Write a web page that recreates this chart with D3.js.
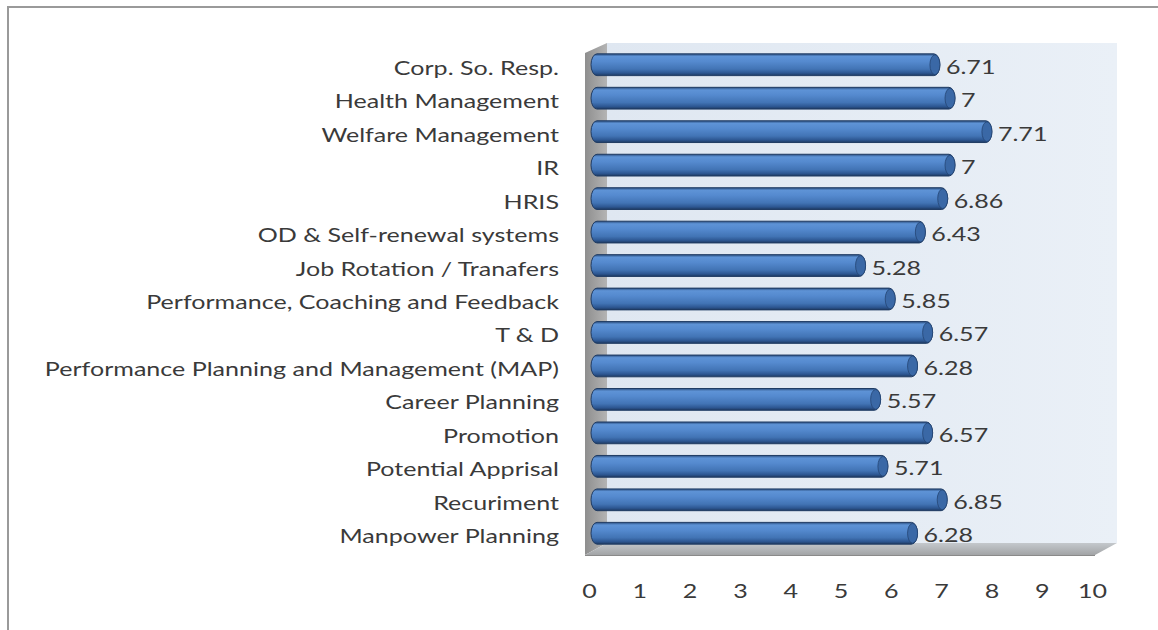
<!DOCTYPE html>
<html><head><meta charset="utf-8">
<script src="https://cdn.jsdelivr.net/npm/d3@7"></script>
<style>body{margin:0;background:#fff}svg{display:block}</style>
</head><body>
<svg id="c" width="1158" height="630"></svg>
<script>
const categories = ["Corp. So. Resp.","Health Management","Welfare Management","IR","HRIS","OD & Self-renewal systems","Job Rotation / Tranafers","Performance, Coaching and Feedback","T & D","Performance Planning and Management (MAP)","Career Planning","Promotion","Potential Apprisal","Recuriment","Manpower Planning"];
const values = [6.71,7,7.71,7,6.86,6.43,5.28,5.85,6.57,6.28,5.57,6.57,5.71,6.85,6.28];
const valueLabels = ["6.71","7","7.71","7","6.86","6.43","5.28","5.85","6.57","6.28","5.57","6.57","5.71","6.85","6.28"];
const ticks = [0,1,2,3,4,5,6,7,8,9,10];

const svg = d3.select("#c");
const defs = svg.append("defs");
const font = "Lato, 'Open Sans', sans-serif";
const fs = 19, sx = 1.32, txtCol = "#3a3a3a";

// gradients
const gb = defs.append("linearGradient").attr("id","bar").attr("x1",0).attr("y1",0).attr("x2",0).attr("y2",1);
[[0,"#2a4d7e"],[0.12,"#5e93d6"],[0.35,"#558acf"],[0.7,"#4274b5"],[0.88,"#2d5792"],[1,"#1e3a62"]].forEach(s=>gb.append("stop").attr("offset",s[0]).attr("stop-color",s[1]));
const gw = defs.append("linearGradient").attr("id","wall").attr("x1",0).attr("y1",0).attr("x2",1).attr("y2",0);
[[0,"#dfe7f1"],[1,"#eaf0f7"]].forEach(s=>gw.append("stop").attr("offset",s[0]).attr("stop-color",s[1]));
const gl = defs.append("linearGradient").attr("id","lwall").attr("x1",0).attr("y1",0).attr("x2",1).attr("y2",0);
[[0,"#8e8e8e"],[1,"#b4b4b4"]].forEach(s=>gl.append("stop").attr("offset",s[0]).attr("stop-color",s[1]));
const gf = defs.append("linearGradient").attr("id","floor").attr("x1",0).attr("y1",0).attr("x2",0).attr("y2",1);
[[0,"#c4c8cc"],[1,"#a2a4a6"]].forEach(s=>gf.append("stop").attr("offset",s[0]).attr("stop-color",s[1]));

// border
svg.append("rect").attr("x",8).attr("y",7).attr("width",1300).attr("height",800)
  .attr("fill","none").attr("stroke","#9a9a9a").attr("stroke-width",2);

// scales
const x = d3.scaleLinear().domain([0,10]).range([591,1111]);
const xAxisScale = d3.scaleLinear().domain([0,10]).range([589,1092]);
const y = d3.scaleBand().domain(categories).range([48,550]).paddingInner(0.35).paddingOuter(0.175);

// walls
const wallL = 607, wallR = 1117, wallT = 43, wallB = 543, dx = 22, dy = 12;
svg.append("rect").attr("x",wallL).attr("y",wallT).attr("width",wallR-wallL).attr("height",wallB-wallT).attr("fill","url(#wall)");
svg.append("path").attr("d",`M${wallL-dx},${wallT+10}L${wallL},${wallT}L${wallL},${wallB}L${wallL-dx},${wallB+dy}Z`).attr("fill","url(#lwall)");
svg.append("path").attr("d",`M${wallL},${wallB}L${wallR},${wallB}L${wallR-dx},${wallB+dy}L${wallL-dx},${wallB+dy}Z`).attr("fill","url(#floor)");
svg.append("line").attr("x1",wallL-dx).attr("x2",wallR-dx).attr("y1",wallB+dy+0.5).attr("y2",wallB+dy+0.5).attr("stroke","#8a8a8a");

// bars
const bars = svg.append("g");
categories.forEach((c,i)=>{
  const y0 = y(c), h = y.bandwidth(), x1 = x(values[i]);
  bars.append("rect").attr("x",x(0)).attr("y",y0).attr("width",x1-x(0)).attr("height",h)
    .attr("rx",6).attr("ry",h/2).attr("fill","url(#bar)").attr("stroke","#1f3b63").attr("stroke-width",1);
  bars.append("ellipse").attr("cx",x1-5).attr("cy",y0+h/2).attr("rx",5).attr("ry",h/2-1)
    .attr("fill","#3a68a6").attr("stroke","#244574").attr("stroke-width",0.8);
  svg.append("text").attr("transform",`translate(${x1+6},${y0+h/2+9}) scale(${sx},1)`)
    .attr("font-family",font).attr("font-size",fs).attr("fill",txtCol).text(valueLabels[i]);
  svg.append("text").attr("transform",`translate(559,${y0+h/2+10}) scale(${sx},1)`)
    .attr("text-anchor","end").attr("font-family",font).attr("font-size",fs).attr("fill",txtCol).text(c);
});

// x axis labels
const ax = svg.append("g").attr("transform","translate(0,582)")
  .call(d3.axisBottom(xAxisScale).tickValues(ticks).tickSize(0).tickFormat(d3.format("d")));
ax.select(".domain").remove();
ax.selectAll("text").attr("font-family",font).attr("font-size",fs).attr("fill",txtCol)
  .attr("transform",`scale(${sx},1)`);
</script>
</body></html>
